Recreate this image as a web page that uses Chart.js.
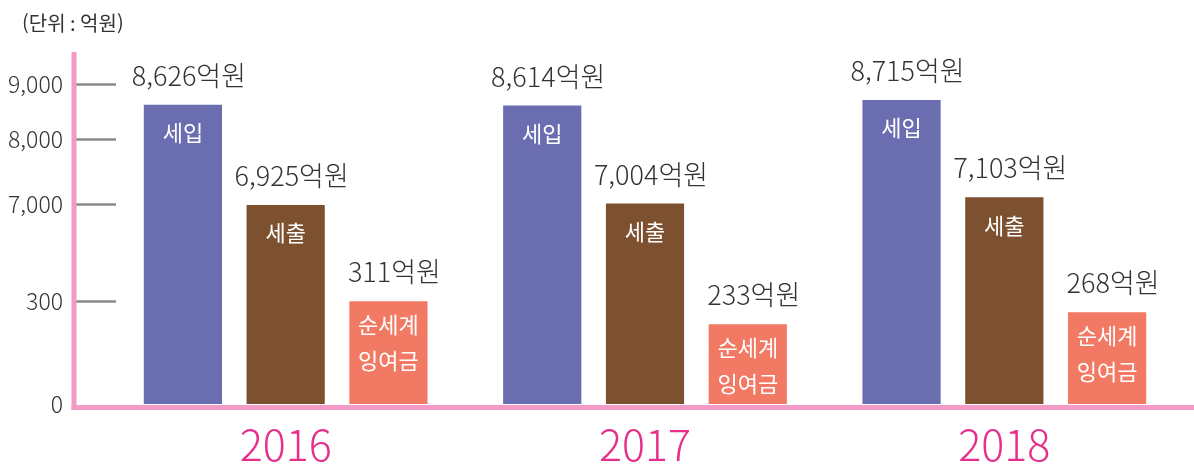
<!DOCTYPE html>
<html lang="ko">
<head>
<meta charset="utf-8">
<title>세입 · 세출 · 순세계잉여금</title>
<script src="https://cdn.jsdelivr.net/npm/chart.js@4"></script>
<style>
    html, body { margin: 0; padding: 0; background: #ffffff; }
    #chart-wrap { width: 1194px; height: 466px; }
</style>
</head>
<body>
<div id="chart-wrap"><canvas id="budget-chart" width="1194" height="466"></canvas></div>
<script>
// data (unit: 억원)
const years = ["2016", "2017", "2018"];
const revenue = [8626, 8614, 8715];      // 세입
const expenditure = [6925, 7004, 7103];  // 세출
const surplus = [311, 233, 268];         // 순세계잉여금
const seriesNames = [["세입"], ["세출"], ["순세계", "잉여금"]];
const yTickValues = [0, 300, 7000, 8000, 9000];

const FONT = "'Noto Sans CJK KR', 'Noto Sans', sans-serif";
const PINK = "#f49ac6";

// the y axis in the picture is broken: each tick gets its own stretch of height
const breakValues = [0, 300, 7000, 8000, 9000, 9600];
const breakStops = [0, 102 / 350, 199 / 350, 263 / 350, 318 / 350, 1];

function valueToDecimal(v) {
    if (v <= breakValues[0]) return 0;
    for (let i = 1; i < breakValues.length; i++) {
        if (v <= breakValues[i]) {
            const t = (v - breakValues[i - 1]) / (breakValues[i] - breakValues[i - 1]);
            return breakStops[i - 1] + t * (breakStops[i] - breakStops[i - 1]);
        }
    }
    return 1;
}

function decimalToValue(d) {
    for (let i = 1; i < breakStops.length; i++) {
        if (d <= breakStops[i]) {
            const t = (d - breakStops[i - 1]) / (breakStops[i] - breakStops[i - 1]);
            return breakValues[i - 1] + t * (breakValues[i] - breakValues[i - 1]);
        }
    }
    return breakValues[breakValues.length - 1];
}

class BrokenLinearScale extends Chart.LinearScale {
    getPixelForValue(value) {
        return this.getPixelForDecimal(valueToDecimal(value));
    }
    getValueForPixel(pixel) {
        return decimalToValue(this.getDecimalForPixel(pixel));
    }
}
BrokenLinearScale.id = "brokenLinear";
BrokenLinearScale.defaults = Chart.LinearScale.defaults;
Chart.register(BrokenLinearScale);

// pink axes, short grey tick marks and the title
const axisDecor = {
    id: "axisDecor",
    beforeDatasetsDraw(chart) {
        const ctx = chart.ctx;
        const area = chart.chartArea;
        const yScale = chart.scales.y;
        const axisX = area.left - 32;

        ctx.save();
        ctx.strokeStyle = "#8a8a8a";
        ctx.lineWidth = 2.5;
        yTickValues.forEach((v) => {
            if (v === 0) return;
            const y = Math.round(yScale.getPixelForValue(v)) + 0.5;
            ctx.beginPath();
            ctx.moveTo(axisX + 2, y);
            ctx.lineTo(axisX + 42, y);
            ctx.stroke();
        });

        ctx.fillStyle = PINK;
        ctx.fillRect(axisX - 2.5, area.top, 5, area.bottom - area.top + 6);
        ctx.fillRect(axisX - 2.5, area.bottom + 1, chart.width - axisX + 2.5, 5);

        ctx.fillStyle = "#333333";
        ctx.font = "20px " + FONT;
        ctx.textAlign = "left";
        ctx.textBaseline = "middle";
        ctx.fillText("(단위 : 억원)", 22, 23);
        ctx.restore();
    },
    afterDatasetsDraw(chart) {
        const ctx = chart.ctx;
        ctx.save();
        ctx.textAlign = "center";
        chart.data.datasets.forEach((ds, i) => {
            const meta = chart.getDatasetMeta(i);
            meta.data.forEach((bar, j) => {
                // value above the bar
                ctx.fillStyle = "#333333";
                ctx.font = "300 27px " + FONT;
                ctx.textBaseline = "alphabetic";
                ctx.fillText(ds.data[j].toLocaleString("en-US") + "억원", bar.x + 6, bar.y - 19);

                // series name inside the bar
                const lines = seriesNames[i];
                ctx.fillStyle = "#ffffff";
                ctx.font = "22px " + FONT;
                ctx.textBaseline = "middle";
                if (lines.length === 1) {
                    ctx.fillText(lines[0], bar.x, bar.y + 28);
                } else {
                    lines.forEach((line, k) => {
                        ctx.fillText(line, bar.x, bar.y + 23 + k * 36);
                    });
                }
            });
        });
        ctx.restore();
    },
};

const ctx = document.getElementById("budget-chart").getContext("2d");
Chart.defaults.font.family = FONT;

new Chart(ctx, {
    type: "bar",
    data: {
        labels: years,
        datasets: [
            { label: "세입", data: revenue, backgroundColor: "#6b6db1" },
            { label: "세출", data: expenditure, backgroundColor: "#7d5130" },
            { label: "순세계잉여금", data: surplus, backgroundColor: "#f27964" },
        ],
    },
    options: {
        responsive: false,
        animation: false,
        layout: { padding: { top: 52, right: 10, left: 0, bottom: 0 } },
        datasets: {
            bar: { categoryPercentage: 0.858, barPercentage: 0.761 },
        },
        plugins: {
            legend: { display: false },
            tooltip: { enabled: false },
        },
        scales: {
            x: {
                grid: { display: false },
                border: { display: false },
                ticks: {
                    color: "#e62e8b",
                    padding: 7,
                    font: { size: 43, weight: "300" },
                },
                afterFit: (axis) => { axis.height = 62; },
            },
            y: {
                type: "brokenLinear",
                min: 0,
                max: 9600,
                grid: { display: false },
                border: { display: false },
                afterBuildTicks: (axis) => {
                    axis.ticks = yTickValues.map((v) => ({ value: v }));
                },
                ticks: {
                    color: "#333333",
                    padding: 35,
                    font: { size: 23, weight: "300" },
                    callback: (value) => value.toLocaleString("en-US"),
                },
                afterFit: (axis) => { axis.width = 106; },
            },
        },
    },
    plugins: [axisDecor],
});
</script>
</body>
</html>
